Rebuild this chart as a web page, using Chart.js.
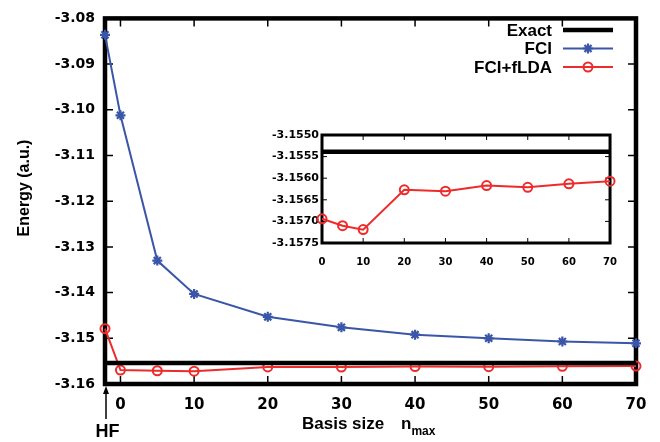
<!DOCTYPE html>
<html lang="en">
<head>
    <meta charset="UTF-8">
    <title>Energy vs basis size</title>
    <script src="https://cdn.jsdelivr.net/npm/chart.js"></script>
    <style>
        body { margin: 0; background: #fff; }
        #wrap { position: relative; width: 660px; height: 442px; }
        #mainChart { position: absolute; left: 0; top: 0; }
        #insetChart { position: absolute; left: 250px; top: 118px; }
    </style>
</head>
<body>
    <div id="wrap">
        <canvas id="mainChart" width="660" height="442"></canvas>
        <canvas id="insetChart" width="380" height="160"></canvas>
    </div>
    <script>
        // Data
        const nmax = [0, 5, 10, 20, 30, 40, 50, 60, 70];
        const fci = [-3.1012, -3.1330, -3.1403, -3.1453, -3.1476, -3.1492, -3.1500, -3.1507, -3.1511];
        const fciLda = [-3.15694, -3.15710, -3.15719, -3.15627, -3.15630, -3.15617, -3.15621, -3.15613, -3.15607];
        const hfPos = -2.1;          // the "HF" point sits on the left axis
        const hfFci = -3.0836;
        const hfLda = -3.1479;
        const exact = -3.15539;

        const xTicks = [0, 10, 20, 30, 40, 50, 60, 70];
        const yTicks = [-3.16, -3.15, -3.14, -3.13, -3.12, -3.11, -3.10, -3.09, -3.08];
        const insetXTicks = [0, 10, 20, 30, 40, 50, 60, 70];
        const insetYTicks = [-3.1575, -3.1570, -3.1565, -3.1560, -3.1555, -3.1550];

        const blue = '#3a56a8';
        const red = '#ee2b2b';
        const tickFont = 'DejaVu Sans';
        const textFont = 'Liberation Sans';

        // frame with inward ticks on all four sides
        const framePlugin = {
            id: 'frame',
            beforeDatasetsDraw(chart, args, opts) {
                const c = chart.ctx, a = chart.chartArea;
                const xs = chart.scales.x, ys = chart.scales.y;
                c.save();
                c.strokeStyle = '#000';
                c.lineWidth = opts.tickWidth;
                c.beginPath();
                opts.xt.forEach(v => {
                    const px = xs.getPixelForValue(v);
                    c.moveTo(px, a.bottom); c.lineTo(px, a.bottom - opts.tickLen);
                    c.moveTo(px, a.top); c.lineTo(px, a.top + opts.tickLen);
                });
                opts.yt.forEach(v => {
                    const py = ys.getPixelForValue(v);
                    c.moveTo(a.left, py); c.lineTo(a.left + opts.tickLen, py);
                    c.moveTo(a.right, py); c.lineTo(a.right - opts.tickLen, py);
                });
                c.stroke();
                c.lineWidth = opts.width;
                c.strokeRect(a.left, a.top, a.right - a.left, a.bottom - a.top);
                c.restore();
            }
        };

        // extra labels: axis titles, HF arrow, legend
        const decoPlugin = {
            id: 'deco',
            afterDraw(chart) {
                const c = chart.ctx;
                c.save();
                c.fillStyle = '#000';
                c.strokeStyle = '#000';

                // y title
                c.save();
                c.translate(25, 188);
                c.rotate(-Math.PI / 2);
                c.font = 'bold 16px "' + textFont + '"';
                c.textAlign = 'center';
                c.textBaseline = 'middle';
                c.fillText('Energy (a.u.)', 0, 0);
                c.restore();

                // x title with subscript
                c.textAlign = 'left';
                c.textBaseline = 'alphabetic';
                c.font = 'bold 17px "' + textFont + '"';
                c.fillText('Basis size', 302, 429);
                c.fillText('n', 401, 429);
                const nw = c.measureText('n').width;
                c.font = 'bold 12px "' + textFont + '"';
                c.fillText('max', 401 + nw, 435);

                // HF arrow
                c.lineWidth = 1.5;
                c.beginPath();
                c.moveTo(106, 419); c.lineTo(106, 390);
                c.stroke();
                c.beginPath();
                c.moveTo(106, 386); c.lineTo(103, 394); c.lineTo(109, 394); c.closePath();
                c.fill();
                c.font = 'bold 18px "' + textFont + '"';
                c.textAlign = 'center';
                c.fillText('HF', 107.5, 437);

                // legend
                const rows = [
                    { label: 'Exact', color: '#000', lw: 4.5, style: null },
                    { label: 'FCI', color: blue, lw: 2, style: 'star' },
                    { label: 'FCI+fLDA', color: red, lw: 2, style: 'circle' }
                ];
                const ys = [30, 48.5, 67];
                c.font = 'bold 17px "' + textFont + '"';
                c.textAlign = 'right';
                c.textBaseline = 'middle';
                rows.forEach((r, i) => {
                    const y = ys[i];
                    c.fillStyle = '#000';
                    c.fillText(r.label, 552, y + 1);
                    c.strokeStyle = r.color;
                    c.lineWidth = r.lw;
                    c.beginPath();
                    c.moveTo(563, y); c.lineTo(613, y);
                    c.stroke();
                    if (r.style) {
                        c.fillStyle = r.style === 'star' ? r.color : 'rgba(0,0,0,0)';
                        c.strokeStyle = r.color;
                        c.lineWidth = r.style === 'star' ? 2.2 : 2;
                        Chart.helpers.drawPoint(c, { pointStyle: r.style, radius: r.style === 'star' ? 5 : 4.5, borderWidth: c.lineWidth }, 588, y);
                    }
                });
                c.restore();
            }
        };

        function fixedTicks(list) {
            return function (scale) { scale.ticks = list.map(v => ({ value: v })); };
        }

        const mainSets = [
            {
                label: 'Exact',
                data: [{ x: hfPos, y: exact }, { x: xTicks[xTicks.length - 1], y: exact }],
                borderColor: '#000',
                borderWidth: 4.5,
                pointRadius: 0
            },
            {
                label: 'FCI',
                data: [{ x: hfPos, y: hfFci }].concat(nmax.map((n, i) => ({ x: n, y: fci[i] }))),
                borderColor: blue,
                backgroundColor: blue,
                borderWidth: 2,
                pointStyle: 'star',
                pointRadius: 5,
                pointBorderWidth: 2.2
            },
            {
                label: 'FCI+fLDA',
                data: [{ x: hfPos, y: hfLda }].concat(nmax.map((n, i) => ({ x: n, y: fciLda[i] }))),
                borderColor: red,
                backgroundColor: 'rgba(0,0,0,0)',
                borderWidth: 2,
                pointStyle: 'circle',
                pointRadius: 4.5,
                pointBorderWidth: 2
            }
        ];

        new Chart(document.getElementById('mainChart'), {
            type: 'line',
            data: { datasets: mainSets.map(d => Object.assign({ clip: false, tension: 0, fill: false }, d)) },
            options: {
                responsive: false,
                animation: false,
                layout: { padding: { top: 15, right: 24, left: 0, bottom: 0 } },
                plugins: {
                    legend: { display: false },
                    tooltip: { enabled: false },
                    frame: { width: 4.5, tickLen: 8, tickWidth: 1.5, xt: xTicks, yt: yTicks }
                },
                scales: {
                    x: {
                        type: 'linear',
                        min: hfPos,
                        max: 70,
                        afterBuildTicks: fixedTicks(xTicks),
                        afterFit: s => { s.height = 58; },
                        grid: { display: false, drawTicks: false },
                        border: { display: false },
                        ticks: {
                            padding: 12,
                            color: '#000',
                            font: { family: tickFont, size: 15, weight: 'bold' },
                            callback: v => String(v)
                        }
                    },
                    y: {
                        min: yTicks[0],
                        max: yTicks[yTicks.length - 1],
                        afterBuildTicks: fixedTicks(yTicks),
                        afterFit: s => { s.width = 105; },
                        grid: { display: false, drawTicks: false },
                        border: { display: false },
                        ticks: {
                            padding: 10,
                            color: '#000',
                            font: { family: tickFont, size: 14, weight: 'bold' },
                            callback: v => v.toFixed(2)
                        }
                    }
                }
            },
            plugins: [framePlugin, decoPlugin]
        });

        // inset: zoom on the FCI+fLDA curve
        new Chart(document.getElementById('insetChart'), {
            type: 'line',
            data: {
                datasets: [
                    {
                        label: 'Exact',
                        data: [{ x: 0, y: exact }, { x: 70, y: exact }],
                        borderColor: '#000',
                        borderWidth: 4.5,
                        pointRadius: 0,
                        clip: false
                    },
                    {
                        label: 'FCI+fLDA',
                        data: nmax.map((n, i) => ({ x: n, y: fciLda[i] })),
                        borderColor: red,
                        backgroundColor: 'rgba(0,0,0,0)',
                        borderWidth: 2,
                        pointStyle: 'circle',
                        pointRadius: 4.5,
                        pointBorderWidth: 2,
                        clip: false
                    }
                ]
            },
            options: {
                responsive: false,
                animation: false,
                layout: { padding: { top: 17, right: 14, left: 0, bottom: 0 } },
                plugins: {
                    legend: { display: false },
                    tooltip: { enabled: false },
                    frame: { width: 3, tickLen: 5, tickWidth: 1, xt: insetXTicks, yt: insetYTicks }
                },
                scales: {
                    x: {
                        type: 'linear',
                        min: 0,
                        max: 70,
                        afterBuildTicks: fixedTicks(insetXTicks),
                        afterFit: s => { s.height = 35; },
                        grid: { display: false, drawTicks: false },
                        border: { display: false },
                        ticks: {
                            padding: 13,
                            color: '#000',
                            font: { family: tickFont, size: 10, weight: 'bold' },
                            callback: v => String(v)
                        }
                    },
                    y: {
                        min: insetYTicks[0],
                        max: insetYTicks[insetYTicks.length - 1],
                        afterBuildTicks: fixedTicks(insetYTicks),
                        afterFit: s => { s.width = 72; },
                        grid: { display: false, drawTicks: false },
                        border: { display: false },
                        ticks: {
                            padding: 3,
                            color: '#000',
                            font: { family: tickFont, size: 11, weight: 'bold' },
                            callback: v => v.toFixed(4)
                        }
                    }
                }
            },
            plugins: [framePlugin]
        });
    </script>
</body>
</html>
